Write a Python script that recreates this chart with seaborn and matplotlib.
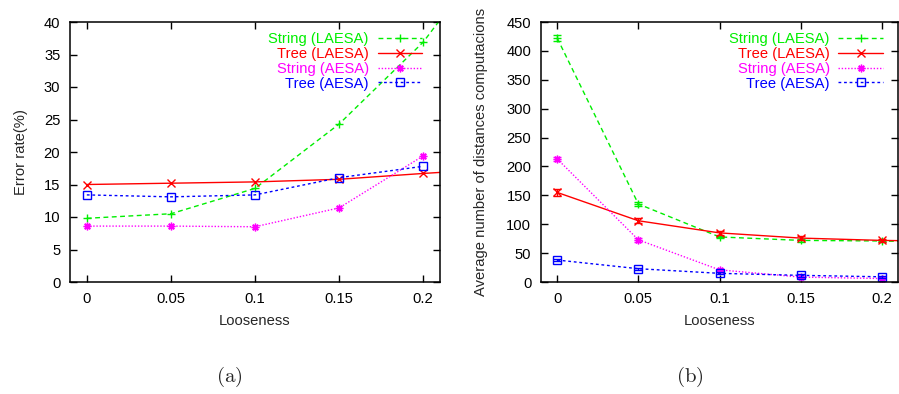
import numpy as np
import pandas as pd
import seaborn as sns
import matplotlib.pyplot as plt

# ---------------------------------------------------------------------------
# Datos
# ---------------------------------------------------------------------------

looseness = [0, 0.05, 0.1, 0.15, 0.2]
# las series LAESA tienen un punto más (fuera del rango visible)
looseness_ext = [0, 0.05, 0.1, 0.15, 0.2, 0.25]

series = ["String (LAESA)", "Tree (LAESA)", "String (AESA)", "Tree (AESA)"]

# (a) tasa de error (%)
err_string_laesa = [9.8, 10.5, 14.4, 24.3, 36.9, 54.0]
err_tree_laesa = [15.0, 15.2, 15.4, 15.8, 16.7, 17.5]
err_string_aesa = [8.6, 8.6, 8.5, 11.4, 19.4]
err_tree_aesa = [13.4, 13.1, 13.4, 16.05, 17.8]

# (b) número medio de cálculos de distancia
dist_string_laesa = [422, 135, 78, 72, 71, 68]
dist_tree_laesa = [155, 106, 85, 76, 72, 70]
dist_string_aesa = [213, 73, 21, 8.5, 6]
dist_tree_aesa = [38, 23, 15, 11.5, 9]

# desviaciones (barras de error) de (b)
dist_sd_string_laesa = [5, 3, 2, 2, 2]
dist_sd_tree_laesa = [6, 4, 3, 3, 3]
dist_sd_string_aesa = [3, 3, 2, 1, 1]
dist_sd_tree_aesa = [2, 2, 2, 2, 2]

xticks = [0, 0.05, 0.1, 0.15, 0.2]
xticklabels = ["0", "0.05", "0.1", "0.15", "0.2"]

# ---------------------------------------------------------------------------
# Estilo
# ---------------------------------------------------------------------------

sns.set_theme(style="ticks")
plt.rcParams["font.family"] = ["Liberation Sans", "DejaVu Sans"]
plt.rcParams["mathtext.fontset"] = "cm"

STYLES = {
    "String (LAESA)": dict(color="#00ee00", marker="+", dashes=(3.5, 2.5)),
    "Tree (LAESA)": dict(color="#ff0000", marker="x", dashes=None),
    "String (AESA)": dict(color="#ff00ff", marker=(8, 2, 0), dashes=(1, 1.3)),
    "Tree (AESA)": dict(color="#0000ff", marker="s", dashes=(2, 2)),
}

FS = 10.6


def _draw(ax, xs, ys, sds=None):
    for name, x, y, sd in zip(series, xs, ys, sds or [None] * 4):
        st = STYLES[name]
        kw = dict(color=st["color"], marker=st["marker"], markersize=5.5,
                  markeredgewidth=1.0, markerfacecolor="none",
                  markeredgecolor=st["color"], linewidth=1.0, label=name)
        if st["dashes"] is None:
            kw["linestyle"] = "-"
        else:
            kw["linestyle"] = (0, st["dashes"])
        sns.lineplot(x=x, y=y, ax=ax, **kw)
        if sd is not None:
            n = len(sd)
            ax.errorbar(x[:n], y[:n], yerr=sd, fmt="none", ecolor=st["color"],
                        elinewidth=1.0, capsize=3)


def _format(ax, ymax, ystep, ylabel, leg_x):
    ax.set_xlim(-0.01, 0.21)
    ax.set_ylim(0, ymax)
    ax.set_xticks(xticks)
    ax.set_xticklabels(xticklabels)
    ax.set_yticks(np.arange(0, ymax + 1, ystep))
    ax.tick_params(direction="in", length=5, width=1, labelsize=FS, pad=7,
                   top=True, right=True, colors="black")
    for sp in ax.spines.values():
        sp.set_visible(True)
        sp.set_linewidth(1.1)
        sp.set_color("black")
    ax.set_xlabel("Looseness", fontsize=FS, labelpad=6)
    ax.set_ylabel(ylabel, fontsize=FS)
    h, l = ax.get_legend_handles_labels()
    ax.legend(h[:4], l[:4], loc="upper right", bbox_to_anchor=(leg_x, 0.96),
              frameon=False, markerfirst=False, labelcolor="linecolor",
              handlelength=3.0, handletextpad=0.6, borderpad=0,
              borderaxespad=0, labelspacing=0.05, fontsize=FS)


fig = plt.figure(figsize=(8.99, 3.94), dpi=100)
ax1 = fig.add_axes([70 / 899, 112 / 394, 370 / 899, 260 / 394])
ax2 = fig.add_axes([541 / 899, 112 / 394, 357 / 899, 260 / 394])

_draw(ax1,
      [looseness_ext, looseness_ext, looseness, looseness],
      [err_string_laesa, err_tree_laesa, err_string_aesa, err_tree_aesa])
_format(ax1, 40, 5, "Error rate(%)", 0.951)
ax1.yaxis.set_label_coords(-0.113, 0.5)

_draw(ax2,
      [looseness_ext, looseness_ext, looseness, looseness],
      [dist_string_laesa, dist_tree_laesa, dist_string_aesa, dist_tree_aesa],
      [dist_sd_string_laesa, dist_sd_tree_laesa, dist_sd_string_aesa, dist_sd_tree_aesa])
_format(ax2, 450, 50, "Average number of distances computacions", 0.957)
ax2.yaxis.set_label_coords(-0.149, 0.5)

fig.text(229 / 899, 17 / 394, r"$(\mathrm{a})$", fontsize=15, ha="center", va="center")
fig.text(690 / 899, 17 / 394, r"$(\mathrm{b})$", fontsize=15, ha="center", va="center")

fig.savefig("out.png", dpi=100)
